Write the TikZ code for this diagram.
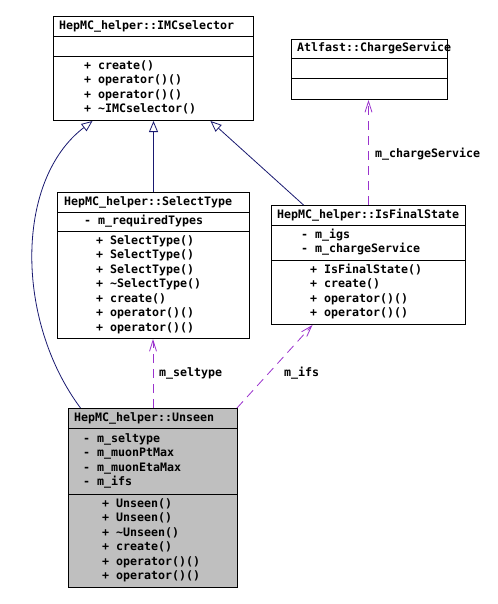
\documentclass[tikz,border=0pt]{standalone}
\usepackage{fontspec}
\setmonofont{DejaVu Sans Mono}
\usetikzlibrary{arrows.meta}
\definecolor{inhcol}{HTML}{191970}
\definecolor{usecol}{HTML}{9A32CD}
\definecolor{graybox}{HTML}{BFBFBF}
\tikzset{
  every node/.style={font=\ttfamily\bfseries\fontsize{11.63bp}{14bp}\selectfont},
  txt/.style={anchor=west, inner sep=0pt, text height=8bp, text depth=2bp},
  cbox/.style={draw=black, line width=1bp, anchor=north west, inner sep=0pt, fill=white},
  sepline/.style={draw=black, line width=1bp},
  inh/.style={draw=inhcol, line width=0.8bp, -{Triangle[open, length=11bp, width=9bp, fill=white]}},
  use/.style={draw=usecol, line width=0.8bp, dash pattern=on 9bp off 6bp, -{Straight Barb[length=11bp, width=7bp]}},
}
\begin{document}
\begin{tikzpicture}[x=1bp, y=-1bp]
\useasboundingbox (0,0) rectangle (498,604);

% ---------------- boxes ----------------
\node[cbox, minimum width=200bp, minimum height=103.5bp] (imc) at (53,16.5) {};
\node[cbox, minimum width=156bp, minimum height=60bp] (cs) at (291,39) {};
\node[cbox, minimum width=192bp, minimum height=146bp] (sel) at (57,192) {};
\node[cbox, minimum width=194bp, minimum height=119bp] (fin) at (271,205) {};
\node[cbox, fill=graybox, minimum width=169bp, minimum height=179bp] (uns) at (68,408) {};

% separators
\draw[sepline] ([yshift=-20bp]imc.north west) -- ([yshift=-20bp]imc.north east);
\draw[sepline] ([yshift=-40bp]imc.north west) -- ([yshift=-40bp]imc.north east);
\draw[sepline] ([yshift=-20bp]cs.north west) -- ([yshift=-20bp]cs.north east);
\draw[sepline] ([yshift=-40bp]cs.north west) -- ([yshift=-40bp]cs.north east);
\draw[sepline] ([yshift=-20bp]sel.north west) -- ([yshift=-20bp]sel.north east);
\draw[sepline] ([yshift=-39bp]sel.north west) -- ([yshift=-39bp]sel.north east);
\draw[sepline] ([yshift=-20bp]fin.north west) -- ([yshift=-20bp]fin.north east);
\draw[sepline] ([yshift=-55bp]fin.north west) -- ([yshift=-55bp]fin.north east);
\draw[sepline] ([yshift=-20bp]uns.north west) -- ([yshift=-20bp]uns.north east);
\draw[sepline] ([yshift=-86bp]uns.north west) -- ([yshift=-86bp]uns.north east);

% ---------------- texts ----------------
% IMCselector
\node[txt] (imcT) at (59,26.5) {HepMC\_helper::IMCselector};
\node[txt] (imcM1) at (84,66.5) {+ create()};
\node[txt] (imcM2) at (84,81) {+ operator()()};
\node[txt] (imcM3) at (84,95.5) {+ operator()()};
\node[txt] (imcM4) at (84,110) {+ \textasciitilde IMCselector()};
% ChargeService
\node[txt] (csT) at (297,49) {Atlfast::ChargeService};
% SelectType
\node[txt] (selT) at (64,202) {HepMC\_helper::SelectType};
\node[txt] (selA1) at (84,221.5) {- m\_requiredTypes};
\node[txt] (selM1) at (96,241) {+ SelectType()};
\node[txt] (selM2) at (96,255.5) {+ SelectType()};
\node[txt] (selM3) at (96,270) {+ SelectType()};
\node[txt] (selM4) at (96,284.5) {+ \textasciitilde SelectType()};
\node[txt] (selM5) at (96,299) {+ create()};
\node[txt] (selM6) at (96,313.5) {+ operator()()};
\node[txt] (selM7) at (96,328) {+ operator()()};
% IsFinalState
\node[txt] (finT) at (277,215) {HepMC\_helper::IsFinalState};
\node[txt] (finA1) at (301,235.25) {- m\_igs};
\node[txt] (finA2) at (301,249.75) {- m\_chargeService};
\node[txt] (finM1) at (310,270.25) {+ IsFinalState()};
\node[txt] (finM2) at (310,284.75) {+ create()};
\node[txt] (finM3) at (310,299.25) {+ operator()()};
\node[txt] (finM4) at (310,313.75) {+ operator()()};
% Unseen
\node[txt] (unsT) at (74,418) {HepMC\_helper::Unseen};
\node[txt] (unsA1) at (83,439.25) {- m\_seltype};
\node[txt] (unsA2) at (83,453.75) {- m\_muonPtMax};
\node[txt] (unsA3) at (83,468.25) {- m\_muonEtaMax};
\node[txt] (unsA4) at (83,482.75) {- m\_ifs};
\node[txt] (unsM1) at (102,504.25) {+ Unseen()};
\node[txt] (unsM2) at (102,518.75) {+ Unseen()};
\node[txt] (unsM3) at (102,533.25) {+ \textasciitilde Unseen()};
\node[txt] (unsM4) at (102,547.75) {+ create()};
\node[txt] (unsM5) at (102,562.25) {+ operator()()};
\node[txt] (unsM6) at (102,576.75) {+ operator()()};

% ---------------- connectors ----------------
\draw[inh] (sel.north) -- (sel.north |- imc.south);
\draw[inh] ([xshift=-65bp]fin.north) -- ([xshift=57bp]imc.south);
\draw[inh] ([xshift=-72.5bp]uns.north) .. controls (15,320) and (15,180) .. ([xshift=-61bp]imc.south);

\draw[use] (uns.north) -- (uns.north |- sel.south);
\draw[use] ([xshift=-1bp]uns.north east) -- ([xshift=-56bp]fin.south);
\draw[use] (fin.north) -- (fin.north |- cs.south);

% labels
\node[txt] (lsel) at (159,373) {m\_seltype};
\node[txt] (lifs) at (284,373) {m\_ifs};
\node[txt] (lcs) at (375,155) {m\_chargeService};
\end{tikzpicture}
\end{document}
